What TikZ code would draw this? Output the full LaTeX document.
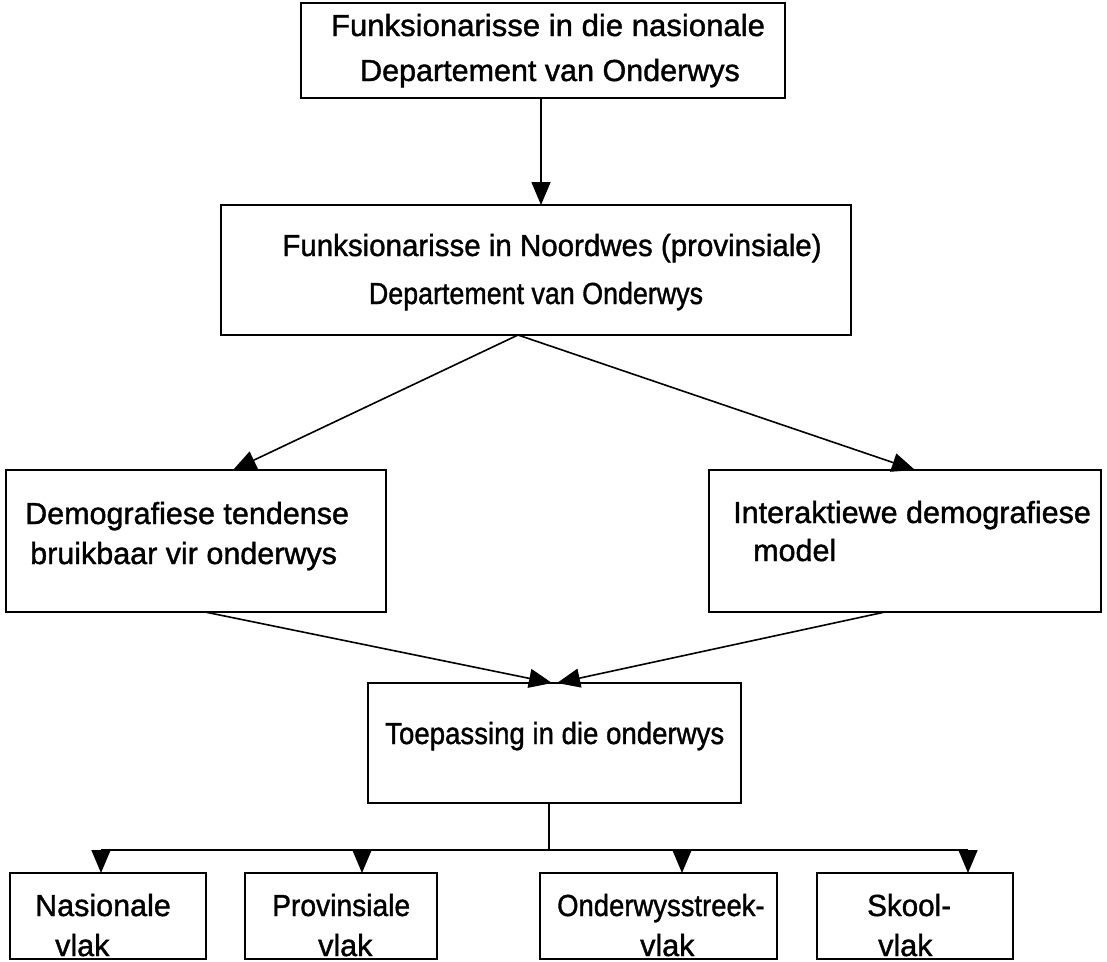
\documentclass[tikz,border=0pt]{standalone}
\usepackage{fontspec}
\setmainfont{Liberation Sans}
\newfontfamily\scanfont{Liberation Sans}[FakeBold=1.3]
\usetikzlibrary{arrows.meta}
\tikzset{
  boxst/.style={draw, line width=1.7pt, inner sep=0pt, rectangle},
  txt/.style={inner sep=0pt, anchor=base west, font=\scanfont\fontsize{30.5}{35}\selectfont},
  txtc/.style={inner sep=0pt, anchor=base, font=\scanfont\fontsize{30.5}{35}\selectfont},
  conn/.style={line width=1.6pt, -{Triangle[length=23pt,width=19pt]}},
  plain/.style={line width=1.6pt}
}
\begin{document}
\begin{tikzpicture}[x=1pt,y=-1pt]
\useasboundingbox (0,0) rectangle (1107,961);
% boxes
\node[boxst, minimum width=484pt, minimum height=95pt] (top) at (543,50.5) {};
\node[boxst, minimum width=630pt, minimum height=130pt] (prov) at (536,270) {};
\node[boxst, minimum width=380pt, minimum height=142pt] (demo) at (196,541) {};
\node[boxst, minimum width=392pt, minimum height=142pt] (inter) at (905,541) {};
\node[boxst, minimum width=373pt, minimum height=120pt] (toep) at (554.5,743) {};
\node[boxst, minimum width=196pt, minimum height=86pt] (b1) at (108,916) {};
\node[boxst, minimum width=192pt, minimum height=86pt] (b2) at (341,916) {};
\node[boxst, minimum width=237pt, minimum height=86pt] (b3) at (658.5,916) {};
\node[boxst, minimum width=196pt, minimum height=86pt] (b4) at (915,916) {};
% texts
\node[txtc] (t1a) at (548,36) {\scalebox{1.02}[1]{Funksionarisse in die nasionale}};
\node[txtc] (t1b) at (550,81) {Departement van Onderwys};
\node[txtc] (t2a) at (552,256) {\scalebox{0.967}[1]{Funksionarisse in Noordwes (provinsiale)}};
\node[txtc] (t2b) at (536,304) {\scalebox{0.88}[1]{Departement van Onderwys}};
\node[txt] (t3a) at (25,524) {Demografiese tendense};
\node[txt] (t3b) at (30,564) {bruikbaar vir onderwys};
\node[txt] (t4a) at (733,523) {Interaktiewe demografiese};
\node[txt] (t4b) at (753,561) {model};
\node[txt] (t5) at (385,744) {\scalebox{0.905}[1]{Toepassing in die onderwys}};
\node[txt] (t6a) at (35,916) {Nasionale};
\node[txt] (t6b) at (55,956) {vlak};
\node[txt] (t7a) at (272,916) {\scalebox{0.925}[1]{Provinsiale}};
\node[txt] (t7b) at (318,956) {vlak};
\node[txt] (t8a) at (557,916) {\scalebox{0.9}[1]{Onderwysstreek-}};
\node[txt] (t8b) at (640,956) {vlak};
\node[txt] (t9a) at (867,916) {\scalebox{0.97}[1]{Skool-}};
\node[txt] (t9b) at (878,956) {vlak};
% attach points
\coordinate (topS) at (541,98);
\coordinate (provN) at (541,205);
\coordinate (provS) at (518,335);
\coordinate (demoN) at (233,470);
\coordinate (interN) at (915,470);
\coordinate (demoS) at (205,612);
\coordinate (interS) at (885,612);
\coordinate (toepNa) at (552,683);
\coordinate (toepNb) at (557,683);
\coordinate (toepS) at (549,803);
\coordinate (bus) at (549,850);
\coordinate (bus1) at (101,850);
\coordinate (bus2) at (362,850);
\coordinate (bus3) at (682,850);
\coordinate (bus4) at (968,850);
\coordinate (b1N) at (101,873);
\coordinate (b2N) at (362,873);
\coordinate (b3N) at (682,873);
\coordinate (b4N) at (968,873);
% connectors
\draw[conn] (topS) -- (provN);
\draw[conn] (provS) -- (demoN);
\draw[conn] (provS) -- (interN);
\draw[conn] (demoS) -- (toepNa);
\draw[conn] (interS) -- (toepNb);
\draw[plain] (toepS) -- (bus);
\draw[plain] (bus1) -- (bus4);
\draw[conn] (bus1) -- (b1N);
\draw[conn] (bus2) -- (b2N);
\draw[conn] (bus3) -- (b3N);
\draw[conn] (bus4) -- (b4N);
\end{tikzpicture}
\end{document}
